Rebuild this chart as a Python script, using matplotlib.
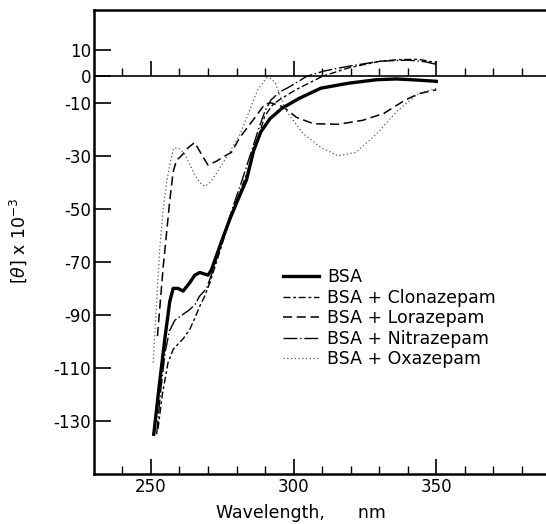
import matplotlib
matplotlib.use("Agg")
import matplotlib.pyplot as plt
from matplotlib.ticker import FixedLocator

# CD spectra, [theta] x 10^-3 vs wavelength (nm)
bsa_wl = [251.0, 253.0, 255.0, 256.6, 257.8, 259.5, 261.3, 263.5, 265.4, 267.1, 270.0, 271.2,
          274.5, 277.6, 280.7, 283.5, 286.0, 288.5, 291.7, 296.0, 302.0, 309.5, 319.3, 329.0,
          336.0, 343.0, 350.0]
bsa_val = [-135, -116, -98, -85, -80, -80, -81, -78, -75, -74, -75, -73,
           -63, -54, -46, -39, -28, -21, -16, -12, -8.3, -4.5, -2.6, -1.3,
           -1.0, -1.4, -1.9]

clon_wl = [252.5, 254.0, 256.0, 257.8, 259.5, 261.3, 263.6, 265.5, 267.0, 268.8, 270.6, 273.0,
           276.5, 280.0, 283.5, 286.5, 289.9, 292.5, 294.8, 300.9, 310.1, 319.3, 330.4, 337.0,
           343.9, 350.0]
clon_val = [-133, -120, -108, -103, -101, -99, -95.5, -91, -87, -83, -78, -70,
            -58, -47, -37, -27, -15, -11, -9, -5, 0, 3.2, 5.7, 6.3,
            6.4, 5.1]

lora_wl = [252.3, 254.3, 256.6, 257.8, 259.0, 260.7, 263.0, 265.3, 267.5, 270.0, 273.0, 276.0,
           278.2, 281.2, 285.8, 289.9, 292.0, 296.3, 301.0, 307.0, 315.6, 324.2, 331.6, 339.0,
           344.0, 350.0]
lora_val = [-98, -72, -47, -36, -31.6, -30, -27, -25, -29, -33.5, -32, -30,
            -28.7, -23, -16.5, -10.5, -10, -11.5, -15.5, -17.9, -18.1, -16.6, -14, -9,
            -6.5, -5.1]

nitr_wl = [252.0, 253.5, 255.0, 256.5, 258.4, 261.0, 263.6, 265.5, 267.0, 269.5, 271.5, 275.0,
           278.5, 282.0, 285.0, 288.0, 290.0, 292.0, 295.0, 298.5, 304.6, 310.7, 319.3, 330.4,
           340.0, 346.0, 350.0]
nitr_val = [-135, -118, -104, -96, -92, -90, -88, -86, -83, -80, -74, -62,
            -50, -39, -29, -19, -13, -9, -6, -4, 0, 2, 3.8, 5.7,
            6.1, 5.5, 4.5]

oxa_wl = [250.8, 252.0, 253.1, 254.3, 255.5, 256.7, 258.0, 259.5, 261.7, 263.5, 265.3, 267.0,
          269.0, 270.8, 272.7, 276.4, 281.3, 284.5, 287.4, 290.5, 292.0, 293.6, 297.2, 303.4,
          309.5, 315.6, 321.8, 329.1, 336.5, 343.9, 350.0]
oxa_val = [-108, -85, -65, -50, -40, -33, -27, -27, -29, -33, -37, -40,
           -41.5, -40, -37, -30.7, -21.7, -13, -5.1, -0.6, -0.8, -2.6, -12.8, -21.7,
           -26.8, -30, -28.7, -21.7, -12.8, -6.4, -4.5]

labels = ["BSA", "BSA + Clonazepam", "BSA + Lorazepam", "BSA + Nitrazepam", "BSA + Oxazepam"]
y_ticks = [10, 0, -10, -30, -50, -70, -90, -110, -130]
x_major = [250, 300, 350]

W, H = 546, 524
fig = plt.figure(figsize=(W / 100, H / 100), dpi=100)
ax = fig.add_axes([93.8 / W, 1 - 474 / H, 1 - 93.8 / W, (474 - 10) / H])

ax.plot(bsa_wl, bsa_val, color="black", lw=2.4, label=labels[0])
ax.plot(clon_wl, clon_val, color="black", lw=1.0, ls=(0, (5, 2, 2, 2)), label=labels[1])
ax.plot(lora_wl, lora_val, color="black", lw=1.1, ls=(0, (6, 3)), label=labels[2])
ax.plot(nitr_wl, nitr_val, color="black", lw=1.0, ls=(0, (10, 2, 1, 2)), label=labels[3])
ax.plot(oxa_wl, oxa_val, color="0.35", lw=0.9, ls=(0, (1, 2)), label=labels[4])

ax.axhline(0, color="black", lw=1.2)

ax.set_xlim(230, 388.4)
ax.set_ylim(-150, 25)

ax.spines["right"].set_visible(False)
for s in ["left", "top", "bottom"]:
    ax.spines[s].set_linewidth(1.8)

ax.xaxis.set_major_locator(FixedLocator(x_major))
ax.xaxis.set_minor_locator(FixedLocator(list(range(240, 390, 10))))
ax.tick_params(axis="x", which="major", direction="in", length=10.5, width=1.2,
               labelsize=12, pad=3)
ax.tick_params(axis="x", which="minor", direction="in", length=5.5, width=1.0)

ax.set_yticks(y_ticks)
ax.set_yticklabels([str(v) for v in y_ticks])
ax.tick_params(axis="y", which="major", direction="in", length=12, width=1.2,
               labelsize=12, pad=2)

# tick marks along the zero line
sec = ax.secondary_xaxis(150 / 175)
sec.xaxis.set_major_locator(FixedLocator(x_major))
sec.xaxis.set_minor_locator(FixedLocator(list(range(240, 390, 10))))
sec.tick_params(axis="x", which="major", direction="out", length=10.5, width=1.2,
                labeltop=False, labelbottom=False)
sec.tick_params(axis="x", which="minor", direction="out", length=5.5, width=1.0)
for s in sec.spines.values():
    s.set_visible(False)

fig.text(301 / W, 1 - 513 / H, "Wavelength,      nm", ha="center", va="center", fontsize=12.5)
fig.text(18 / W, 1 - 241 / H, r"[$\theta$] x 10$^{-3}$", ha="center", va="center",
         rotation=90, fontsize=12.5)

ax.legend(loc="upper left", bbox_to_anchor=(283 / W, 1 - 268 / H),
          bbox_transform=fig.transFigure, frameon=False, fontsize=12.5,
          handlelength=2.1, handletextpad=0.45, labelspacing=0.15,
          borderpad=0, borderaxespad=0)

fig.savefig("out.png", dpi=100)
